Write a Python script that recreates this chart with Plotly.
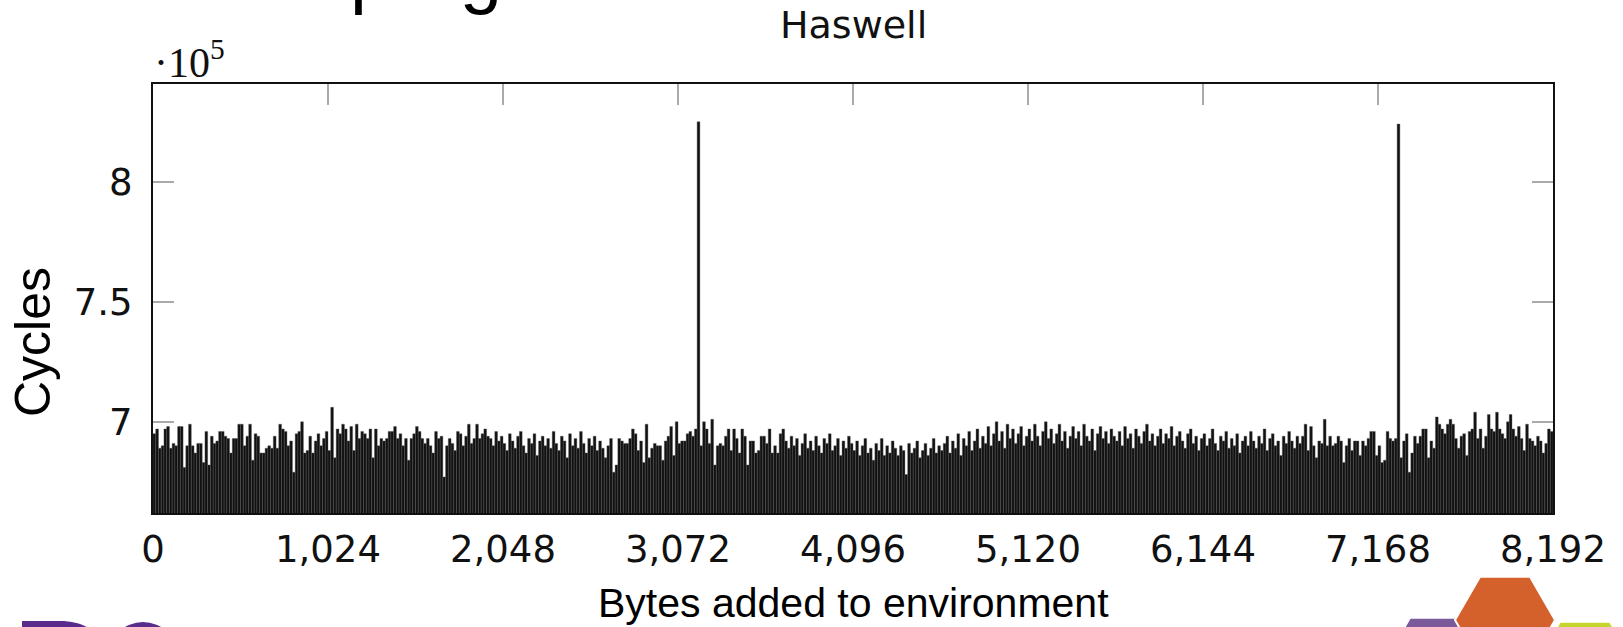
import plotly.graph_objects as go

# ---------------- data ----------------
bytes_added = list(range(0, 8192, 16))          # 512 environment sizes (bytes)

# cycles, in units of 1e5, one row per 256 bytes
cycles_e5 = [
    6.95, 6.97, 6.89, 6.90, 6.97, 6.98, 6.89, 6.91, 6.90, 6.98, 6.98, 6.81, 6.90, 6.99, 6.90, 6.87,
    6.91, 6.91, 6.83, 6.96, 6.82, 6.94, 6.91, 6.92, 6.96, 6.96, 6.94, 6.93, 6.87, 6.93, 6.93, 6.99,
    6.99, 6.90, 6.94, 6.99, 6.84, 6.95, 6.94, 6.87, 6.87, 6.89, 6.90, 6.89, 6.94, 6.89, 6.99, 6.97,
    6.96, 6.90, 6.92, 6.79, 6.95, 6.96, 7.00, 6.87, 6.88, 6.94, 6.87, 6.92, 6.95, 6.90, 6.93, 6.96,
    6.88, 7.06, 6.85, 6.97, 6.95, 6.99, 6.97, 6.92, 6.98, 6.88, 6.99, 6.93, 6.96, 6.95, 6.93, 6.97,
    6.85, 6.97, 6.90, 6.93, 6.92, 6.93, 6.96, 6.96, 6.98, 6.93, 6.95, 6.90, 6.93, 6.84, 6.93, 6.95,
    6.98, 6.96, 6.93, 6.91, 6.93, 6.90, 6.87, 6.96, 6.93, 6.94, 6.77, 6.90, 6.93, 6.91, 6.88, 6.96,
    6.95, 6.90, 6.94, 6.99, 6.91, 6.93, 6.99, 6.93, 6.95, 6.97, 6.94, 6.93, 6.90, 6.96, 6.92, 6.94,
    6.91, 6.88, 6.95, 6.92, 6.89, 6.94, 6.96, 6.90, 6.87, 6.93, 6.91, 6.95, 6.86, 6.92, 6.94, 6.90,
    6.93, 6.89, 6.96, 6.91, 6.88, 6.94, 6.92, 6.85, 6.95, 6.90, 6.93, 6.89, 6.96, 6.91, 6.87, 6.93,
    6.90, 6.94, 6.88, 6.92, 6.89, 6.85, 6.90, 6.93, 6.79, 6.82, 6.93, 6.92, 6.91, 6.91, 6.93, 6.97,
    6.95, 6.88, 6.92, 6.83, 6.99, 6.85, 6.89, 6.91, 6.90, 6.90, 6.84, 6.92, 6.94, 6.98, 6.86, 7.00,
    6.91, 6.92, 6.92, 6.95, 6.96, 6.94, 6.97, 8.25, 6.90, 7.00, 6.97, 6.91, 7.01, 6.82, 6.90, 6.91,
    6.90, 6.94, 6.97, 6.88, 6.97, 6.93, 6.87, 6.97, 6.94, 6.82, 6.92, 6.92, 6.87, 6.88, 6.94, 6.94,
    6.91, 6.97, 6.87, 6.90, 6.87, 6.95, 6.97, 6.92, 6.89, 6.94, 6.90, 6.93, 6.86, 6.91, 6.95, 6.89,
    6.92, 6.88, 6.94, 6.90, 6.87, 6.93, 6.91, 6.95, 6.88, 6.90, 6.93, 6.86, 6.92, 6.89, 6.94, 6.91,
    6.88, 6.92, 6.86, 6.90, 6.93, 6.87, 6.89, 6.84, 6.91, 6.88, 6.93, 6.86, 6.90, 6.87, 6.92, 6.89,
    6.86, 6.90, 6.88, 6.78, 6.91, 6.87, 6.89, 6.92, 6.85, 6.88, 6.91, 6.86, 6.89, 6.93, 6.87, 6.90,
    6.88, 6.91, 6.94, 6.87, 6.92, 6.89, 6.95, 6.86, 6.93, 6.90, 6.96, 6.88, 6.92, 6.97, 6.89, 6.94,
    6.91, 6.98, 6.90, 6.95, 7.00, 6.92, 6.96, 6.89, 6.99, 6.93, 6.97, 6.91, 6.95, 6.98, 6.90, 6.94,
    6.97, 6.92, 6.99, 6.94, 6.90, 6.96, 7.00, 6.93, 6.97, 6.91, 6.95, 6.99, 6.92, 6.96, 6.89, 6.94,
    6.98, 6.93, 6.96, 6.90, 6.99, 6.94, 6.92, 6.97, 6.88, 6.95, 6.98, 6.93, 6.96, 6.91, 6.97, 6.94,
    6.92, 6.96, 6.90, 6.98, 6.93, 6.95, 6.89, 6.97, 6.94, 6.91, 6.96, 6.99, 6.92, 6.95, 6.90, 6.94,
    6.97, 6.91, 6.95, 6.93, 6.98, 6.90, 6.94, 6.96, 6.92, 6.89, 6.95, 6.97, 6.91, 6.94, 6.88, 6.93,
    6.95, 6.90, 6.93, 6.97, 6.91, 6.88, 6.94, 6.92, 6.96, 6.89, 6.93, 6.90, 6.95, 6.87, 6.92, 6.94,
    6.90, 6.96, 6.92, 6.89, 6.94, 6.91, 6.97, 6.88, 6.93, 6.95, 6.90, 6.92, 6.86, 6.94, 6.91, 6.96,
    6.92, 6.89, 6.94, 6.91, 6.94, 6.99, 6.88, 6.98, 6.90, 6.85, 6.92, 6.91, 7.01, 6.90, 6.94, 6.90,
    6.91, 6.94, 6.92, 6.83, 6.90, 6.93, 6.88, 6.92, 6.92, 6.86, 6.92, 6.90, 6.93, 6.96, 6.96, 6.86,
    6.90, 6.83, 6.84, 6.96, 6.93, 6.92, 6.93, 8.24, 6.85, 6.92, 6.95, 6.79, 6.87, 6.94, 6.91, 6.94,
    6.97, 6.97, 6.85, 6.92, 6.89, 7.02, 6.99, 6.97, 6.95, 6.99, 7.01, 6.99, 6.93, 6.89, 6.94, 6.95,
    6.86, 6.96, 6.97, 7.04, 6.93, 6.97, 6.89, 6.94, 7.03, 6.97, 6.96, 7.04, 6.97, 6.95, 6.93, 7.00,
    7.03, 6.97, 6.94, 6.98, 6.93, 6.88, 6.99, 6.93, 6.92, 6.90, 6.94, 6.92, 6.87, 6.91, 6.97, 6.96,
]
assert len(cycles_e5) == len(bytes_added)

x_tick_vals = [0, 1024, 2048, 3072, 4096, 5120, 6144, 7168, 8192]
y_tick_vals = [7, 7.5, 8]
y_tick_text = ["7", "7.5", "8"]

# ---------------- layout geometry (pixels) ----------------
W, H = 1623, 627
L, R, T, B = 153, 70, 84, 114
PW, PH = W - L - R, H - T - B


def px(xp):
    return (xp - L) / PW


def py(yp):
    return (H - B - yp) / PH


def hexagon(cx, cy, r):
    pts = [(cx + r, cy), (cx + r / 2, cy - 0.866 * r), (cx - r / 2, cy - 0.866 * r),
           (cx - r, cy), (cx - r / 2, cy + 0.866 * r), (cx + r / 2, cy + 0.866 * r)]
    return "M " + " L ".join(f"{px(a):.5f},{py(b):.5f}" for a, b in pts) + " Z"


fig = go.Figure()
fig.add_trace(go.Bar(
    x=bytes_added, y=cycles_e5, width=16, offset=0,
    marker=dict(color="#111111", line=dict(width=0.4, color="#555555")),
    hoverinfo="x+y",
))

tick_font = dict(family="DejaVu Sans", size=37, color="#111111")
fig.update_layout(
    width=W, height=H, margin=dict(l=L, r=R, t=T, b=B),
    paper_bgcolor="white", plot_bgcolor="white", showlegend=False,
    bargap=0.1,
    xaxis=dict(range=[0, 8192], tickvals=x_tick_vals, tickformat=",",
               ticks="inside", ticklen=21, tickwidth=1.5, tickcolor="#aaaaaa",
               showline=True, linecolor="#111111", linewidth=2, mirror="ticks",
               showgrid=False, zeroline=False, tickfont=tick_font, ticklabelstandoff=3,
               layer="below traces"),
    yaxis=dict(range=[6.62, 8.407], tickvals=y_tick_vals, ticktext=y_tick_text,
               ticks="inside", ticklen=21, tickwidth=1.5, tickcolor="#aaaaaa",
               showline=True, linecolor="#111111", linewidth=2, mirror="ticks",
               showgrid=False, zeroline=False, tickfont=tick_font, ticklabelstandoff=11,
               layer="below traces"),
)

ann = [
    dict(text="Haswell", x=0.5, y=py(25), xref="paper", yref="paper", showarrow=False,
         xanchor="center", yanchor="middle", font=dict(family="DejaVu Sans", size=38, color="#111111")),
    dict(text="·10<sup>5</sup>", x=px(152), y=py(60), xref="paper", yref="paper", showarrow=False,
         xanchor="left", yanchor="middle", font=dict(family="Liberation Serif", size=42, color="#111111")),
    dict(text="Bytes added to environment", x=0.5, y=py(603), xref="paper", yref="paper",
         showarrow=False, xanchor="center", yanchor="middle",
         font=dict(family="Liberation Sans", size=41, color="#000000")),
    dict(text="Cycles", x=px(33), y=py(342), xref="paper", yref="paper", showarrow=False,
         textangle=-90, xanchor="center", yanchor="middle",
         font=dict(family="Liberation Sans", size=50, color="#000000")),
    dict(text="program", x=px(348), y=py(17), xref="paper", yref="paper", showarrow=False,
         xanchor="left", yanchor="bottom",
         font=dict(family="Liberation Sans", size=76, color="#000000")),
]
fig.update_layout(annotations=ann)

shapes = [
    # logo fragments at the bottom of the slide
    dict(type="path", xref="paper", yref="paper", path=hexagon(1435, 661, 50),
         fillcolor="#7b5a9c", line=dict(color="white", width=2), layer="above"),
    dict(type="path", xref="paper", yref="paper", path=hexagon(1585, 665, 50),
         fillcolor="#c5d52b", line=dict(color="white", width=2), layer="above"),
    dict(type="path", xref="paper", yref="paper", path=hexagon(1505, 620, 50),
         fillcolor="#d4602b", line=dict(color="white", width=2), layer="above"),
    dict(type="path", xref="paper", yref="paper",
         path=(f"M {px(22):.5f},{py(640):.5f} L {px(22):.5f},{py(621):.5f} "
               f"L {px(60):.5f},{py(621):.5f} C {px(82):.5f},{py(621):.5f} "
               f"{px(96):.5f},{py(630):.5f} {px(96):.5f},{py(640):.5f} Z"),
         fillcolor="#5a2d8c", line=dict(width=0), layer="above"),
    dict(type="circle", xref="paper", yref="paper",
         x0=px(108), x1=px(178), y0=py(692), y1=py(622),
         fillcolor="#5a2d8c", line=dict(width=0), layer="above"),
]
fig.update_layout(shapes=shapes)

fig.write_html("out.html")
